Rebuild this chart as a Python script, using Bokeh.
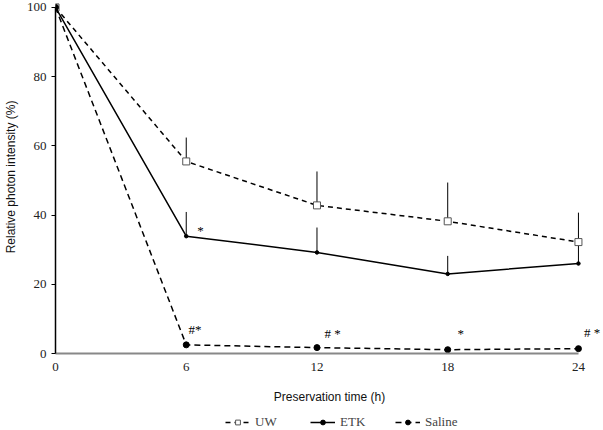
from bokeh.plotting import figure
from bokeh.layouts import column
from bokeh.models import Range1d, Legend, LegendItem, ColumnDataSource, FixedTicker
from bokeh.core.properties import value
from bokeh.embed import file_html
from bokeh.resources import INLINE

# ---- data ----
time_h = [0, 6, 12, 18, 24]
uw = [100, 55.5, 42.8, 38.2, 32.2]
uw_sd = [0, 6.9, 9.8, 11.2, 8.5]
etk = [100, 33.9, 29.2, 23.0, 26.0]
etk_sd = [0, 7.0, 7.2, 5.2, 6.0]
saline = [100, 2.5, 1.7, 1.1, 1.4]

sig_x = [6.1, 12.35, 18.45, 24.25]
sig_y = [7.0, 5.7, 5.7, 6.0]
sig_text = ["#*", "# *", "*", "# *"]
etk_sig_x = [6.5]
etk_sig_y = [35.6]
etk_sig_text = ["*"]

series_names = ["UW", "ETK", "Saline"]
x_ticks = [0, 6, 12, 18, 24]
y_ticks = [0, 20, 40, 60, 80, 100]

SERIF = "Liberation Serif"
SANS = "Liberation Sans"

STYLE = {
    "UW": dict(dash="5 4", marker="square", size=7, fill="white", mline="#555555"),
    "ETK": dict(dash="solid", marker="circle", size=3.5, fill="black", mline="black"),
    "Saline": dict(dash="6 4", marker="circle", size=6, fill="black", mline="black"),
}

p = figure(width=603, height=406, output_backend="svg", toolbar_location=None,
           x_range=Range1d(0, 25.15), y_range=Range1d(0, 102),
           min_border_left=0, min_border_right=0, min_border_top=0, min_border_bottom=52)
p.outline_line_color = None
p.grid.visible = False
p.background_fill_color = "white"

src = ColumnDataSource(dict(t=time_h, UW=uw, uw_hi=[m + s for m, s in zip(uw, uw_sd)],
                            ETK=etk, etk_hi=[m + s for m, s in zip(etk, etk_sd)],
                            Saline=saline))

# error bars (upper only)
p.segment(x0="t", y0="ETK", x1="t", y1="etk_hi", source=src, line_color="black", line_width=1)
p.segment(x0="t", y0="UW", x1="t", y1="uw_hi", source=src, line_color="black", line_width=1)

for name in series_names:
    st = STYLE[name]
    p.line("t", name, source=src, line_color="black", line_width=1.5, line_dash=st["dash"])
    p.scatter("t", name, source=src, marker=st["marker"], size=st["size"],
              fill_color=st["fill"], line_color=st["mline"], line_width=1)

# significance marks
p.text(x=sig_x, y=sig_y, text=sig_text, text_font=value(SERIF), text_font_size="13px",
       text_baseline="middle", text_align="left", text_color="black")
p.text(x=etk_sig_x, y=etk_sig_y, text=etk_sig_text, text_font=value(SERIF), text_font_size="13px",
       text_baseline="middle", text_align="left", text_color="black")

# axes
xa = p.xaxis[0]
xa.ticker = FixedTicker(ticks=x_ticks)
xa.bounds = (0, 24)
xa.axis_line_color = "#888888"
xa.axis_line_width = 2
xa.major_tick_line_color = None
xa.minor_tick_line_color = None
xa.major_label_text_font = SERIF
xa.major_label_text_font_size = "13px"
xa.major_label_text_color = "#222222"
xa.major_label_standoff = 3
xa.axis_label = "Preservation time (h)"
xa.axis_label_text_font = SANS
xa.axis_label_text_font_style = "normal"
xa.axis_label_text_font_size = "12px"
xa.axis_label_text_color = "#111111"
xa.axis_label_standoff = 16

ya = p.yaxis[0]
ya.ticker = FixedTicker(ticks=y_ticks)
ya.bounds = (0, 100)
ya.axis_line_color = "black"
ya.axis_line_width = 1.5
ya.major_tick_line_color = "black"
ya.major_tick_out = 4
ya.major_tick_in = 0
ya.minor_tick_line_color = None
ya.major_label_text_font = SERIF
ya.major_label_text_font_size = "13px"
ya.major_label_text_color = "#222222"
ya.major_label_standoff = 5
ya.axis_label = "Relative photon intensity (%)"
ya.axis_label_text_font = SANS
ya.axis_label_text_font_style = "normal"
ya.axis_label_text_font_size = "12px"
ya.axis_label_text_color = "#111111"
ya.axis_label_standoff = 6

# ---- legend strip (series drawn out of view; only legend swatches show) ----
lg = figure(width=603, height=24, output_backend="svg", toolbar_location=None,
            x_range=Range1d(0, 1), y_range=Range1d(-2, -1),
            x_axis_location=None, y_axis_location=None,
            min_border_left=0, min_border_right=0, min_border_top=0, min_border_bottom=0)
lg.grid.visible = False
lg.outline_line_color = None
items = []
for name in series_names:
    st = STYLE[name]
    r1 = lg.line("t", name, source=src, line_color="black", line_width=1.5, line_dash=st["dash"])
    r2 = lg.scatter("t", name, source=src, marker=st["marker"], size=st["size"],
                    fill_color=st["fill"], line_color=st["mline"], line_width=1)
    items.append(LegendItem(label=name, renderers=[r1, r2]))

legend = Legend(items=items, orientation="horizontal", location=(170, 0))
legend.border_line_color = None
legend.background_fill_alpha = 0
legend.label_text_font = SERIF
legend.label_text_font_size = "13px"
legend.glyph_width = 25
legend.glyph_height = 12
legend.label_width = 50
legend.label_standoff = 5
legend.spacing = 5
legend.padding = 2
legend.margin = 0
legend.label_height = 12
lg.add_layout(legend, "center")

open("out.html", "w").write(file_html(column(p, lg), INLINE))
